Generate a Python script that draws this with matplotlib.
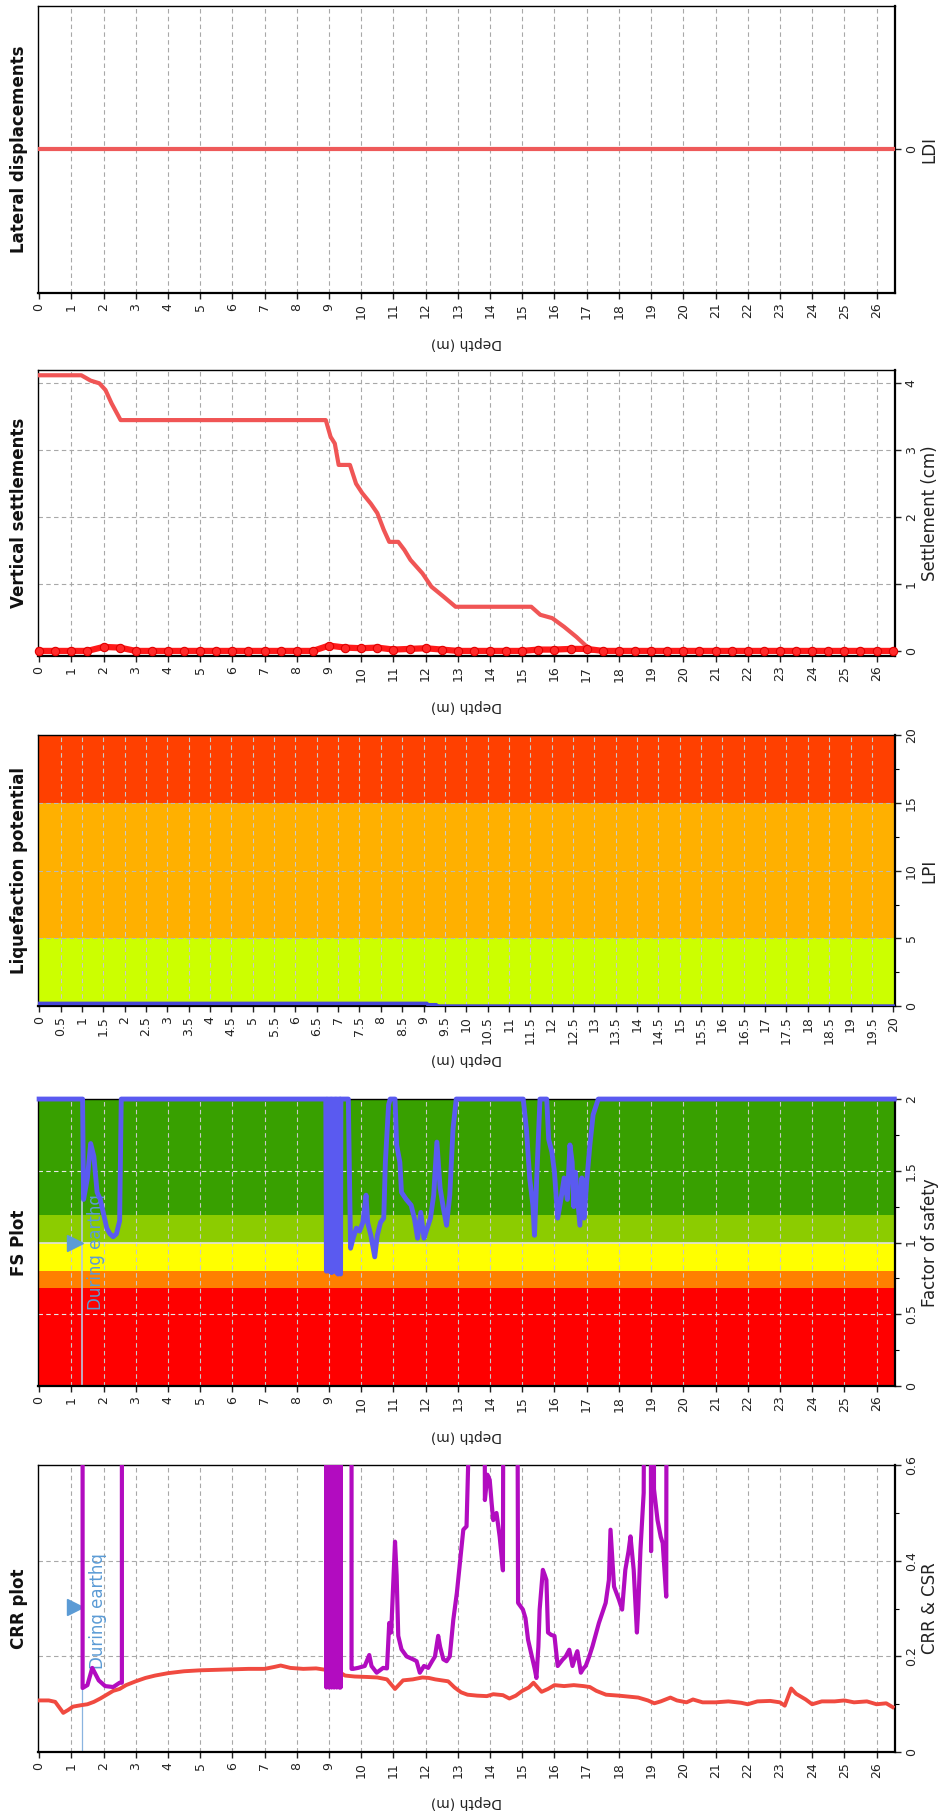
import numpy as np
import matplotlib
matplotlib.use("Agg")
from matplotlib import pyplot as plt
from matplotlib.ticker import MultipleLocator, FormatStrFormatter

# --- dados ---
depth_ticks = list(range(0, 27))
lpi_depth_ticks = [i * 0.5 for i in range(41)]

ldi_depth = [0.0, 26.55]
ldi_val = [0.0, 0.0]

settle_depth = [0, 1.31, 1.6, 1.87, 2.06, 2.25, 2.53, 8.9, 9.05, 9.18, 9.3, 9.65, 9.84,
                10.03, 10.3, 10.5, 10.7, 10.87, 11.15, 11.34, 11.53, 11.9, 12.18, 12.56,
                12.93, 15.28, 15.56, 15.93, 16.3, 16.68, 17.06, 17.15, 26.55]
settle_val = [4.12, 4.12, 4.04, 4.0, 3.9, 3.7, 3.45, 3.45, 3.2, 3.1, 2.78, 2.78, 2.5,
              2.36, 2.2, 2.06, 1.81, 1.63, 1.63, 1.51, 1.36, 1.16, 0.96, 0.81,
              0.66, 0.66, 0.54, 0.49, 0.36, 0.21, 0.04, 0.0, 0.0]

inc_depth = np.arange(0, 26.51, 0.5)
inc_val = [0, 0, 0, 0, 0.06, 0.05, 0, 0, 0, 0, 0, 0, 0, 0, 0, 0, 0, 0,
           0.08, 0.05, 0.04, 0.05, 0.02, 0.03, 0.04, 0.02, 0, 0, 0, 0, 0,
           0.02, 0.02, 0.03, 0.03,
           0, 0, 0, 0, 0, 0, 0, 0, 0, 0, 0, 0, 0, 0, 0, 0, 0, 0, 0]

lpi_depth = [0, 9.08, 9.1, 9.3, 9.32, 20]
lpi_val = [0.2, 0.2, 0.1, 0.1, 0.0, 0.0]
lpi_bands = [(0, 5, '#ccff00'), (5, 15, '#ffb000'), (15, 20, '#ff4000')]

fs_bands = [(0, 0.68, '#ff0000'), (0.68, 0.8, '#ff8000'), (0.8, 1.0, '#ffff00'),
            (1.0, 1.19, '#8ccc00'), (1.19, 2.0, '#38a000')]
fs_depth = [0, 1.35, 1.38, 1.5, 1.6, 1.7, 1.8, 1.9, 2.0, 2.1, 2.2, 2.3, 2.4, 2.5, 2.55,
            8.9, 8.92, 8.94, 8.96, 8.98, 9.0, 9.02, 9.04, 9.06, 9.08, 9.1, 9.12, 9.14,
            9.16, 9.18, 9.2, 9.22, 9.24, 9.26, 9.28, 9.3, 9.32, 9.34, 9.36, 9.37,
            9.6, 9.67, 9.75, 9.85, 9.95, 10.05, 10.15, 10.2, 10.3, 10.42, 10.5, 10.6,
            10.7, 10.75, 10.85, 10.9, 11.05, 11.1, 11.2, 11.25, 11.4, 11.55, 11.65,
            11.75, 11.85, 11.95, 12.05, 12.15, 12.25, 12.35, 12.45, 12.55, 12.65,
            12.75, 12.85, 12.95, 15.03, 15.13, 15.23, 15.33, 15.38, 15.45, 15.55,
            15.76, 15.82, 15.92, 16.0, 16.1, 16.2, 16.3, 16.4, 16.48, 16.55, 16.6,
            16.65, 16.79, 16.85, 16.92, 17.0, 17.1, 17.2, 17.36, 26.55]
fs_val = [2, 2, 1.3, 1.45, 1.69, 1.6, 1.35, 1.3, 1.2, 1.1, 1.06, 1.04, 1.06, 1.15, 2,
          2, 0.8, 2, 0.82, 2, 0.8, 2, 0.81, 2, 0.79, 2, 0.8, 2,
          0.82, 2, 0.8, 2, 0.79, 2, 0.78, 2, 0.8, 2, 0.78, 2,
          2, 0.96, 1.03, 1.1, 1.08, 1.14, 1.33, 1.14, 1.05, 0.9, 1.05, 1.14,
          1.17, 1.56, 1.96, 2, 2, 1.68, 1.56, 1.35, 1.3, 1.26, 1.17,
          1.03, 1.21, 1.03, 1.1, 1.17, 1.33, 1.7, 1.38, 1.24, 1.12,
          1.33, 1.79, 2, 2, 1.79, 1.45, 1.26, 1.05, 1.45, 2,
          2, 1.72, 1.63, 1.49, 1.17, 1.3, 1.45, 1.3, 1.68, 1.56, 1.25,
          1.49, 1.12, 1.45, 1.17, 1.42, 1.68, 1.89, 2, 2]

csr_depth = [0.0, 0.3, 0.5, 0.75, 0.9, 1.05, 1.3, 1.5, 1.7, 1.9, 2.1, 2.3, 2.5, 2.7,
             3.0, 3.3, 3.6, 4.0, 4.5, 5.0, 5.5, 6.0, 6.5, 7.0, 7.3, 7.5, 7.8, 8.2,
             8.6, 8.9, 9.1, 9.3, 9.5, 9.8, 10.2, 10.5, 10.8, 11.05, 11.3, 11.6, 11.9,
             12.1, 12.3, 12.5, 12.7, 12.9, 13.1, 13.3, 13.6, 13.9, 14.1, 14.4, 14.6,
             14.8, 15.0, 15.2, 15.35, 15.6, 15.8, 16.0, 16.3, 16.6, 16.9, 17.1, 17.3,
             17.6, 18.0, 18.3, 18.6, 18.9, 19.1, 19.3, 19.6, 19.8, 20.1, 20.3, 20.6,
             21.0, 21.4, 21.8, 22.0, 22.3, 22.7, 23.0, 23.15, 23.35, 23.5, 23.8, 24.0,
             24.3, 24.7, 25.0, 25.3, 25.7, 26.0, 26.3, 26.5]
csr_val = [0.108, 0.108, 0.105, 0.082, 0.088, 0.095, 0.098, 0.1, 0.105, 0.112, 0.12,
           0.128, 0.132, 0.14, 0.148, 0.155, 0.16, 0.165, 0.169, 0.171, 0.172, 0.173,
           0.174, 0.174, 0.178, 0.181, 0.176, 0.174, 0.175, 0.172, 0.158, 0.168, 0.16,
           0.158, 0.157, 0.156, 0.152, 0.132, 0.15, 0.152, 0.156, 0.155, 0.152, 0.15,
           0.148, 0.135, 0.125, 0.12, 0.118, 0.117, 0.121, 0.119, 0.112, 0.118, 0.128,
           0.135, 0.145, 0.126, 0.132, 0.14, 0.138, 0.14, 0.138, 0.136, 0.128, 0.12,
           0.118, 0.116, 0.114, 0.108, 0.102, 0.106, 0.114, 0.108, 0.104, 0.11, 0.104,
           0.104, 0.106, 0.103, 0.1, 0.106, 0.107, 0.104, 0.097, 0.133, 0.122, 0.11,
           0.1, 0.106, 0.106, 0.108, 0.104, 0.106, 0.1, 0.102, 0.094]

# valores acima de 0.6 ficam fora do grafico (2.0)
crr_depth = [1.35, 1.35, 1.5, 1.65, 1.85, 2.05, 2.3, 2.5, 2.57, 2.57,
             8.9, 8.92, 8.94, 8.96, 8.98, 9.0, 9.02, 9.04, 9.06, 9.08, 9.1, 9.12, 9.14,
             9.16, 9.18, 9.2, 9.22, 9.24, 9.26, 9.28, 9.3, 9.32, 9.34, 9.36, 9.37,
             9.7, 9.7, 9.75, 9.9, 10.11, 10.25, 10.32, 10.48, 10.6, 10.68, 10.8, 10.87,
             10.93, 11.05, 11.1, 11.15, 11.25, 11.41, 11.61, 11.72, 11.82, 11.95, 12.08,
             12.2, 12.29, 12.39, 12.45, 12.55, 12.65, 12.75, 12.86, 12.97, 13.07,
             13.17, 13.27, 13.32, 13.35, 13.79, 13.84, 13.92, 13.99, 14.05, 14.1, 14.2,
             14.3, 14.4, 14.45, 14.8, 14.87, 15.02, 15.1, 15.18, 15.3, 15.39, 15.44,
             15.5, 15.54, 15.64, 15.7, 15.75, 15.8, 15.9, 16.0, 16.1, 16.25, 16.35,
             16.46, 16.56, 16.65, 16.71, 16.82, 16.9, 16.97, 17.08, 17.18, 17.38,
             17.59, 17.69, 17.74, 17.8, 17.85, 18.0, 18.1, 18.2, 18.3, 18.36, 18.46,
             18.56, 18.6, 18.67, 18.77, 18.87, 18.95, 19.0, 19.05, 19.09, 19.2, 19.3,
             19.36, 19.47, 19.5]
crr_val = [2.0, 0.134, 0.14, 0.176, 0.15, 0.138, 0.136, 0.145, 0.145, 2.0,
           2.0, 0.135, 2.0, 0.14, 2.0, 0.135, 2.0, 0.14, 2.0, 0.135, 2.0, 0.14, 2.0,
           0.135, 2.0, 0.14, 2.0, 0.135, 2.0, 0.14, 2.0, 0.135, 2.0, 0.135, 2.0,
           2.0, 0.174, 0.174, 0.176, 0.18, 0.203, 0.18, 0.166, 0.172, 0.176, 0.175, 0.27,
           0.25, 0.44, 0.37, 0.243, 0.215, 0.2, 0.194, 0.19, 0.166, 0.18, 0.176,
           0.19, 0.2, 0.243, 0.22, 0.194, 0.19, 0.2, 0.277, 0.333, 0.4,
           0.465, 0.472, 0.6, 2.0, 2.0, 0.527, 0.58, 0.569, 0.52, 0.485, 0.5,
           0.45, 0.38, 2.0, 2.0, 0.312, 0.298, 0.28, 0.235, 0.2, 0.173, 0.155,
           0.22, 0.298, 0.381, 0.37, 0.36, 0.25, 0.245, 0.243, 0.18, 0.193, 0.2,
           0.214, 0.18, 0.2, 0.211, 0.166, 0.175, 0.18, 0.2, 0.221, 0.27,
           0.312, 0.36, 0.465, 0.4, 0.346, 0.319, 0.298, 0.381, 0.42, 0.451, 0.381,
           0.25, 0.3, 0.423, 0.542, 2.0, 2.0, 0.42, 2.0, 0.55, 0.485, 0.45,
           0.437, 0.325, 2.0]

gwt_depth = 1.33
marker_depth = 1.1

# --- layout ---
fig = plt.figure(figsize=(9.47, 18.16), dpi=100)
L, W = 0.0396, 0.9054
rects = [(0.8387, 0.158), (0.6388, 0.1575), (0.446, 0.149), (0.2368, 0.158), (0.0352, 0.158)]
titles = ["Lateral displacements", "Vertical settlements", "Liquefaction potential",
          "FS Plot", "CRR plot"]
ylabels = ["LDI", "Settlement (cm)", "LPI", "Factor of safety", "CRR & CSR"]
axes = [fig.add_axes([L, b, W, h]) for b, h in rects]

grid_plain = dict(color='#a8a8a8', lw=0.8, ls=(0, (4, 3)))
grid_color = dict(color='#c8c8c8', lw=0.8, ls=(0, (4, 3)))


def setup(ax, title, ylabel, colored=False, lpi=False):
    g = grid_color if colored else grid_plain
    if lpi:
        ax.set_xlim(-0.04, 20.04)
        ax.set_xticks(lpi_depth_ticks)
        ax.set_xticklabels([('%g' % t) for t in lpi_depth_ticks])
        for t in lpi_depth_ticks[1:-1]:
            ax.axvline(t, zorder=1.5, **g)
    else:
        ax.set_xlim(-0.05, 26.57)
        ax.set_xticks(depth_ticks)
        for t in depth_ticks[1:]:
            ax.axvline(t, zorder=1.5, **g)
    ax.yaxis.tick_right()
    ax.yaxis.set_label_position('right')
    ax.yaxis.set_major_formatter(FormatStrFormatter('%g'))
    ax.tick_params(axis='x', direction='out', length=4, width=1, pad=3,
                   labelsize=9, labelrotation=90, colors='#222222')
    ax.tick_params(axis='y', which='major', direction='out', length=4, width=1,
                   pad=3, labelsize=9, labelrotation=90, colors='#222222')
    ax.tick_params(axis='y', which='minor', direction='out', length=3, width=0.8)
    for lab in ax.get_yticklabels():
        lab.set_va('center')
    for s in ['top', 'left']:
        ax.spines[s].set_linewidth(1.0)
    for s in ['bottom', 'right']:
        ax.spines[s].set_linewidth(1.6)
    ax.set_ylabel(ylabel, rotation=90, fontsize=12, color='#222222')
    ax.yaxis.set_label_coords(1.03, 0.5)
    ax.set_xlabel("Depth (m)", rotation=180, fontsize=10, color='#222222', va='center')
    bb = ax.get_position()
    ax.xaxis.set_label_coords(0.5, -(0.0275 / bb.height) if not lpi else -(0.029 / bb.height))
    fig.text(0.02, bb.y0 + bb.height / 2, title, rotation=90, fontsize=12,
             fontweight='bold', ha='center', va='center', color='#111111')


# Lateral displacements
ax = axes[0]
ax.set_ylim(-1, 1)
ax.set_yticks([0])
ax.plot(ldi_depth, ldi_val, color='#ee5a5a', lw=3, zorder=3)
setup(ax, titles[0], ylabels[0])

# Vertical settlements
ax = axes[1]
ax.set_ylim(-0.075, 4.2)
ax.set_yticks([0, 1, 2, 3, 4])
for v in [1, 2, 3, 4]:
    ax.axhline(v, zorder=1.5, **grid_plain)
ax.plot(settle_depth, settle_val, color='#f05555', lw=3, zorder=3)
ax.plot(inc_depth, inc_val, color='#ff1a1a', lw=4.5, marker='o', ms=6,
        mfc='#ff2a2a', mec='#e00000', mew=0.8, zorder=4, clip_on=False)
setup(ax, titles[1], ylabels[1])

# Liquefaction potential
ax = axes[2]
ax.set_ylim(0, 20)
ax.set_yticks([0, 5, 10, 15, 20])
ax.yaxis.set_minor_locator(MultipleLocator(2.5))
for lo, hi, c in lpi_bands:
    ax.axhspan(lo, hi, color=c, lw=0, zorder=1)
for v in [5, 10, 15]:
    ax.axhline(v, zorder=1.6, color='#b8b8b8', lw=0.8, ls=(0, (4, 3)))
ax.plot(lpi_depth, lpi_val, color='#4848d8', lw=2.5, zorder=3)
setup(ax, titles[2], ylabels[2], colored=True, lpi=True)

# FS plot
ax = axes[3]
ax.set_ylim(0, 2)
ax.set_yticks([0, 0.5, 1, 1.5, 2])
ax.yaxis.set_minor_locator(MultipleLocator(0.25))
for lo, hi, c in fs_bands:
    ax.axhspan(lo, hi, color=c, lw=0, zorder=1)
for v in [0.5, 1.5]:
    ax.axhline(v, zorder=1.6, color='#e8e8e8', lw=0.8, ls=(0, (4, 3)))
ax.axhline(1.0, zorder=1.6, color='#e0e0e0', lw=1.2)
ax.axvline(gwt_depth, color='#b8c8e0', lw=1.2, zorder=2)
ax.plot([marker_depth], [1.0], marker='>', ms=12, color='#5b9bd5', zorder=2.2)
ax.text(1.78, 0.93, "During earthq", rotation=90, color='#5b9bd5', fontsize=12,
        ha='center', va='center', zorder=2.1)
ax.plot(fs_depth, fs_val, color='#5a5af0', lw=3.5, zorder=3, clip_on=False)
setup(ax, titles[3], ylabels[3], colored=True)

# CRR plot
ax = axes[4]
ax.set_ylim(0, 0.6)
ax.set_yticks([0, 0.2, 0.4, 0.6])
ax.yaxis.set_minor_locator(MultipleLocator(0.1))
for v in [0.2, 0.4]:
    ax.axhline(v, zorder=1.5, **grid_plain)
ax.axvline(gwt_depth, color='#8ab4e0', lw=0.9, zorder=2)
ax.plot([marker_depth], [0.303], marker='>', ms=12, color='#5b9bd5', zorder=2.2)
ax.text(1.82, 0.295, "During earthq", rotation=90, color='#5b9bd5', fontsize=12,
        ha='center', va='center', zorder=2.1)
ax.plot(csr_depth, csr_val, color='#f04a40', lw=2.8, zorder=3)
ax.plot(crr_depth, crr_val, color='#b20cc0', lw=3, zorder=3.5)
setup(ax, titles[4], ylabels[4])

fig.savefig("out.png", dpi=100)
